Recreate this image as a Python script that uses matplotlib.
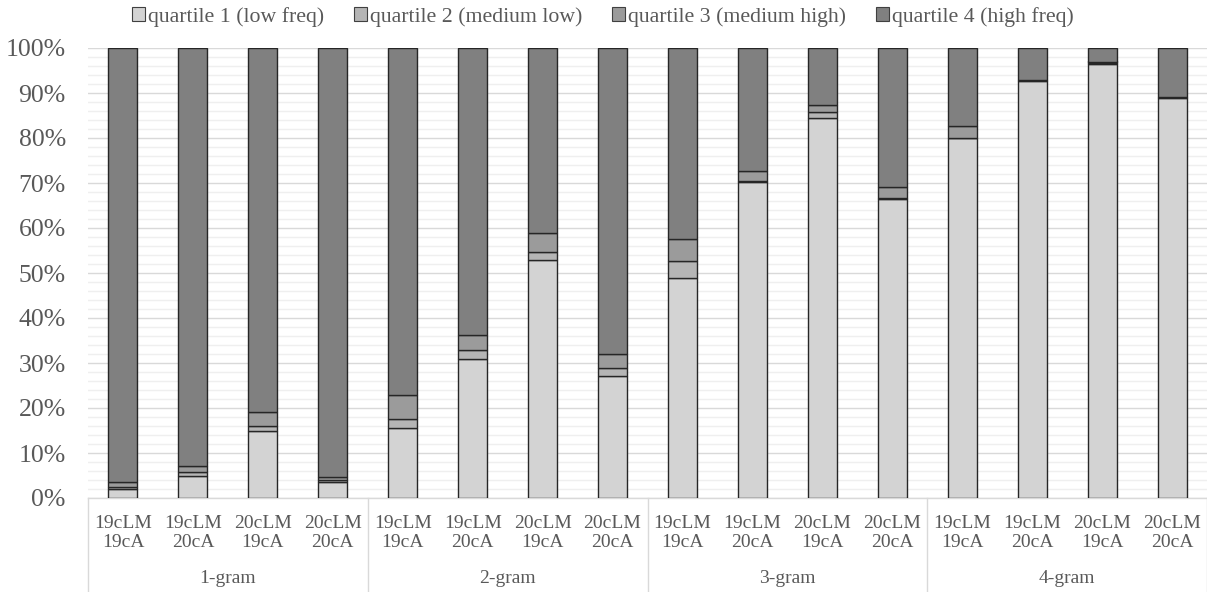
import numpy as np
import matplotlib
matplotlib.use("Agg")
import matplotlib.pyplot as plt
from matplotlib.patches import Patch
from matplotlib.lines import Line2D

# share of each frequency quartile per model/corpus pair, in percent
pairs = ["19cLM\n19cA", "19cLM\n20cA", "20cLM\n19cA", "20cLM\n20cA"]
ngrams = ["1-gram", "2-gram", "3-gram", "4-gram"]
q1 = [2.0, 4.9, 15.0, 3.5, 15.6, 30.8, 53.0, 27.1, 48.8, 70.3, 84.4, 66.4, 79.9, 92.7, 96.5, 89.0]
q2 = [0.5, 0.8, 1.1, 0.4, 2.0, 2.1, 1.6, 1.9, 3.8, 0.2, 1.3, 0.2, 0.2, 0.1, 0.1, 0.1]
q3 = [1.0, 1.4, 3.0, 0.8, 5.3, 3.3, 4.2, 3.1, 5.0, 2.2, 1.6, 2.4, 2.6, 0.1, 0.4, 0.1]
q4 = [96.5, 92.9, 80.9, 95.3, 77.1, 63.8, 41.2, 67.9, 42.4, 27.3, 12.7, 31.0, 17.3, 7.1, 3.0, 10.8]
names = ["quartile 1 (low freq)", "quartile 2 (medium low)",
         "quartile 3 (medium high)", "quartile 4 (high freq)"]
colors = ["#d3d3d3", "#b5b5b5", "#9b9b9b", "#808080"]

plt.rcParams['font.family'] = ['Liberation Serif', 'DejaVu Serif']
txt = "#595959"

fig = plt.figure(figsize=(12.07, 5.92), dpi=100)
ax = fig.add_axes([88 / 1207, 94 / 592, 1119 / 1207, 450 / 592])

n = len(q1)
x = np.arange(n)
bottom = np.zeros(n)
for vals, col in zip([q1, q2, q3, q4], colors):
    vals = np.array(vals)
    ax.bar(x, vals, bottom=bottom, width=0.415, color=col,
           edgecolor="#262626", linewidth=1.0, zorder=3)
    bottom += vals

ax.set_xlim(-0.5, n - 0.5)
ax.set_ylim(0, 100)
ax.set_yticks(np.arange(0, 101, 10))
ax.set_yticklabels([f"{v}%" for v in range(0, 101, 10)])
ax.set_yticks(np.arange(0, 101, 2), minor=True)
ax.grid(axis="y", which="major", color="#d9d9d9", linewidth=1.0, zorder=0)
ax.grid(axis="y", which="minor", color="#efefef", linewidth=1.0, zorder=0)
ax.tick_params(axis="y", which="both", length=0, pad=16, labelsize=18.5, labelcolor=txt)

ax.set_xticks(x)
ax.set_xticklabels(pairs * len(ngrams), fontsize=14, color=txt, linespacing=1.2)
ax.tick_params(axis="x", length=0, pad=12)

for s in ["left", "right", "top"]:
    ax.spines[s].set_visible(False)
ax.spines["bottom"].set_color("#d9d9d9")
ax.spines["bottom"].set_linewidth(1.0)

# group labels and separators under the category axis
trans = ax.get_xaxis_transform()
for g, name in enumerate(ngrams):
    ax.text(g * 4 + 1.5, -0.178, name, transform=trans, ha="center", va="center",
            fontsize=14, color=txt)
for g in range(len(ngrams) + 1):
    ax.add_line(Line2D([g * 4 - 0.5] * 2, [0, -0.21], transform=trans,
                       color="#d9d9d9", linewidth=1.0, clip_on=False))

handles = [Patch(facecolor=c, edgecolor="#404040", linewidth=0.8) for c in colors]
fig.legend(handles, names, loc="center", bbox_to_anchor=(603 / 1207, 1 - 17 / 592),
           ncol=4, frameon=False, fontsize=15.7, labelcolor=txt,
           handlelength=0.6, handleheight=0.6, handletextpad=0.15, columnspacing=1.35)

fig.savefig("out.png", dpi=100)
